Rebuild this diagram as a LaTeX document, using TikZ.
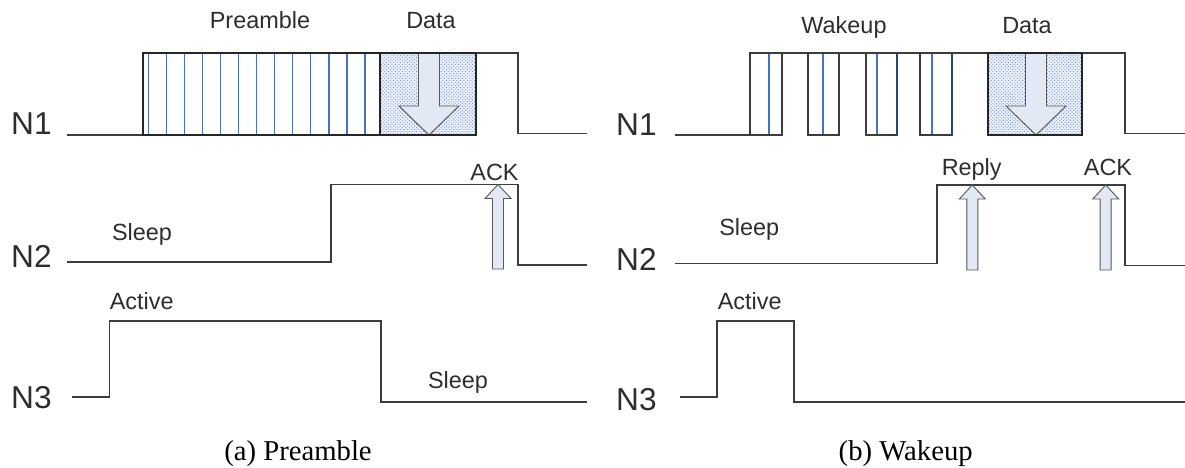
\documentclass[tikz,border=0pt]{standalone}
\usepackage{fontspec}
\setmainfont{Liberation Serif}
\setsansfont{Liberation Sans}
\usetikzlibrary{patterns}

\definecolor{sigcol}{RGB}{60,60,60}
\definecolor{slotblue}{RGB}{68,114,196}
\definecolor{arrfill}{RGB}{226,233,245}
\definecolor{txtcol}{RGB}{45,45,45}

\tikzset{
  sig/.style={draw=sigcol, line width=1.5pt},
  slotbox/.style={draw=black!85, line width=1.8pt},
  blueline/.style={draw=slotblue, line width=1.1pt},
  datafill/.style={fill=slotblue!10, postaction={pattern=crosshatch dots, pattern color=slotblue!85}},
  blockarr/.style={fill=arrfill, draw=gray!70!black, line width=0.8pt},
  lbl/.style={text=txtcol, font=\sffamily\fontsize{20}{22}\selectfont, inner sep=0pt, anchor=base},
  nlbl/.style={text=txtcol, font=\sffamily\fontsize{27}{30}\selectfont, inner sep=0pt, anchor=base west},
  captxt/.style={text=black, font=\rmfamily\fontsize{24.5}{27}\selectfont, inner sep=0pt, anchor=base}
}

% pfeil nach oben: x, unten, spitze
\newcommand{\ackarrow}[3]{\filldraw[blockarr] (#1-5.5,#2) -- (#1-5.5,#3+14) -- (#1-13,#3+14) -- (#1,#3) -- (#1+13,#3+14) -- (#1+5.5,#3+14) -- (#1+5.5,#2) -- cycle;}
% pfeil nach unten im Datenblock
\newcommand{\dataarrow}[1]{\filldraw[blockarr] (#1-10.5,53) -- (#1-10.5,106) -- (#1-30,106) -- (#1,135) -- (#1+30,106) -- (#1+10.5,106) -- (#1+10.5,53) -- cycle;}

\begin{document}
\begin{tikzpicture}[x=0.03cm, y=-0.03cm, font=\sffamily]
  \useasboundingbox (0,0) rectangle (1185,467);

  % ===== (a) Preamble =====
  % N1: Preamble-Block mit Strichen, dann Daten
  \fill[white] (143,53) rectangle (380,135);
  \foreach \i in {0,...,12}
    \draw[blueline] ({148.3+18.06*\i},54) -- ++(0,80);
  \fill[datafill] (380,53) rectangle (476,135);
  \dataarrow{429}
  \draw[sig] (67,135) -- (143,135) -- (143,53) -- (518,53) -- (518,133.5) -- (587,133.5);
  \draw[slotbox] (143,53) rectangle (476,135);
  \draw[slotbox] (380,53) -- (380,135);
  \node[nlbl] (n1a) at (11,134) {N1};
  \node[lbl] (preamble) at (260,28) {Preamble};
  \node[lbl] (dataa) at (431,28) {Data};

  % N2: schlafen, aufwachen, ACK
  \draw[sig] (67,262) -- (331,262) -- (331,184.5) -- (518,184.5) -- (518,265) -- (587,265);
  \ackarrow{498}{269}{184.5}
  \node[nlbl] (n2a) at (11,267) {N2};
  \node[lbl] (sleepa) at (142,240.5) {Sleep};
  \node[lbl] (acka) at (494.5,180) {ACK};

  % N3: aktiv bis Ende der Praeambel
  \draw[sig] (72,397) -- (109.5,397) -- (109.5,321) -- (381,321) -- (381,402) -- (587,402);
  \node[nlbl] (n3a) at (11,408) {N3};
  \node[lbl] (activea) at (141.7,309.3) {Active};
  \node[lbl] (sleepb) at (458,388.3) {Sleep};

  \node[captxt] (capa) at (298,460) {(a) Preamble};

  % ===== (b) Wakeup =====
  % N1: vier Wakeup-Bloecke, dann Daten
  \foreach \xa/\xb/\xm in {750/782/769, 808/839/823, 866/897/877, 920/952/932} {
    \fill[white] (\xa,53) rectangle (\xb,135);
    \draw[blueline] (\xm,54) -- (\xm,134);
  }
  \fill[datafill] (988,53) rectangle (1082,135);
  \dataarrow{1036}
  \draw[sig] (675,135) -- (750,135) -- (750,53) -- (1125,53) -- (1125,133.5) -- (1185,133.5);
  \foreach \xa/\xb in {750/782, 808/839, 866/897, 920/952}
    \draw[sig] (\xa,53) rectangle (\xb,135);
  \draw[draw=slotblue!60!black, line width=1.5pt] (897,54) -- (897,134) (952,54) -- (952,134);
  \draw[slotbox] (988,53) rectangle (1082,135);
  \node[nlbl] (n1b) at (616,135) {N1};
  \node[lbl] (wakeup) at (844,33.3) {Wakeup};
  \node[lbl] (datab) at (1027,33.3) {Data};

  % N2: Reply und ACK
  \draw[sig] (675,263.5) -- (937,263.5) -- (937,185) -- (1125,185) -- (1125,265.5) -- (1185,265.5);
  \ackarrow{972.3}{270}{185}
  \ackarrow{1105.7}{270}{185}
  \node[nlbl] (n2b) at (616,270) {N2};
  \node[lbl] (sleepc) at (749.3,235) {Sleep};
  \node[lbl] (reply) at (971.7,175) {Reply};
  \node[lbl] (ackb) at (1108,175) {ACK};

  % N3: kurz aktiv
  \draw[sig] (680,397) -- (716.7,397) -- (716.7,321) -- (794,321) -- (794,402.3) -- (1185,402.3);
  \node[nlbl] (n3b) at (616,410) {N3};
  \node[lbl] (activeb) at (749.7,309.3) {Active};

  \node[captxt] (capb) at (905.7,460) {(b) Wakeup};
\end{tikzpicture}
\end{document}
